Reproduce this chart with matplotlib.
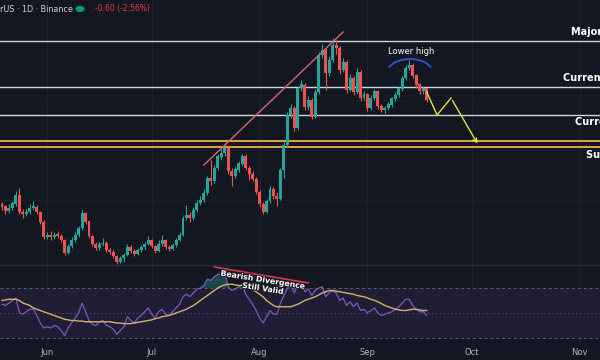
import numpy as np
import pandas as pd
import matplotlib
matplotlib.use("Agg")
import matplotlib.pyplot as plt
import matplotlib.dates as mdates
import matplotlib.patheffects as pe
from matplotlib.patches import Arc

# daily candles (arbitrary price units)
start = "2023-05-19"
opens = [19.6, 19.3, 18.9, 19.2, 19.6, 20.5, 18.8, 18.6, 18.8, 19.2,
         19.3, 18.8, 17.8, 16.3, 16.5, 16.3, 16.5, 16.4, 16.0, 14.7,
         15.4, 16.0, 16.5, 17.2, 18.7, 17.8, 16.4, 15.6, 15.2, 15.6,
         15.7, 15.0, 14.8, 14.4, 13.8, 14.2, 14.5, 15.3, 14.9, 14.6,
         15.0, 15.3, 15.6, 16.0, 15.4, 14.9, 15.6, 16.0, 15.3, 15.1,
         15.5, 16.0, 16.5, 18.2, 18.5, 18.2, 19.0, 19.7, 20.0, 20.7,
         22.2, 21.9, 23.2, 24.3, 24.7, 25.2, 22.9, 22.4, 23.0, 23.6,
         24.4, 23.2, 22.6, 22.1, 20.8, 19.6, 18.8, 19.9, 21.0, 20.4,
         20.1, 23.0, 25.5, 28.5, 29.2, 27.2, 31.2, 31.5, 29.3, 30.0,
         28.3, 30.8, 34.5, 35.0, 32.7, 34.0, 35.5, 35.2, 33.0, 33.8,
         31.0, 32.2, 30.8, 32.8, 30.2, 30.5, 29.2, 30.2, 30.8, 29.4,
         29.0, 29.2, 29.5, 30.1, 30.5, 31.1, 32.2, 33.2, 33.5, 32.4,
         31.5, 30.9, 31.1]
closes = [19.3, 18.9, 19.2, 19.6, 20.5, 18.8, 18.6, 18.8, 19.2, 19.3,
          18.8, 17.8, 16.3, 16.5, 16.3, 16.5, 16.4, 16.0, 14.7, 15.4,
          16.0, 16.5, 17.2, 18.7, 17.8, 16.4, 15.6, 15.2, 15.6, 15.7,
          15.0, 14.8, 14.4, 13.8, 14.2, 14.5, 15.3, 14.9, 14.6, 15.0,
          15.3, 15.6, 16.0, 15.4, 14.9, 15.6, 16.0, 15.3, 15.1, 15.5,
          16.0, 16.5, 18.2, 18.5, 18.2, 19.0, 19.7, 20.0, 20.7, 22.2,
          21.9, 23.2, 24.3, 24.7, 25.2, 22.9, 22.4, 23.0, 23.6, 24.4,
          23.2, 22.6, 22.1, 20.8, 19.6, 18.8, 19.9, 21.0, 20.4, 20.1,
          23.0, 25.5, 28.5, 29.2, 27.2, 31.2, 31.5, 29.3, 30.0, 28.3,
          30.8, 34.5, 35.0, 32.7, 34.0, 35.5, 35.2, 33.0, 33.8, 31.0,
          32.2, 30.8, 32.8, 30.2, 30.5, 29.2, 30.2, 30.8, 29.4, 29.0,
          29.2, 29.5, 30.1, 30.5, 31.1, 32.2, 33.2, 33.5, 32.4, 31.5,
          30.9, 31.1, 30.0]
highs = [19.8, 19.5, 19.6, 19.9, 20.9, 21.2, 19.1, 19.1, 19.6, 19.9,
         19.5, 18.9, 18.0, 16.8, 16.9, 16.8, 16.9, 16.6, 16.1, 15.6,
         16.3, 16.8, 17.4, 19.0, 18.8, 17.9, 16.5, 15.8, 15.8, 16.2,
         15.9, 15.2, 15.0, 14.5, 14.4, 14.7, 15.6, 15.5, 15.1, 15.2,
         15.5, 15.8, 16.4, 16.1, 15.5, 16.0, 16.5, 16.1, 15.5, 15.7,
         16.2, 16.8, 18.4, 19.5, 18.8, 19.3, 20.0, 20.4, 21.1, 22.4,
         24.0, 23.5, 24.6, 25.1, 25.6, 25.4, 23.2, 23.3, 23.9, 24.6,
         24.6, 23.4, 22.9, 22.3, 21.0, 19.8, 20.1, 21.4, 21.3, 20.8,
         23.2, 25.8, 28.8, 29.6, 29.4, 31.4, 32.0, 31.7, 30.4, 30.2,
         31.1, 34.8, 35.6, 35.2, 34.4, 36.2, 36.0, 35.4, 34.2, 34.0,
         32.6, 32.4, 33.2, 33.0, 30.9, 30.7, 30.5, 31.1, 31.0, 29.6,
         29.4, 29.8, 30.3, 30.8, 31.3, 32.4, 33.5, 34.0, 33.7, 32.6,
         31.7, 31.4, 31.2]
lows = [19.0, 18.6, 18.7, 19.0, 19.4, 18.6, 18.2, 18.4, 18.6, 19.0,
        18.6, 17.6, 16.1, 16.1, 16.0, 16.1, 16.2, 15.8, 14.5, 14.6,
        15.2, 15.8, 16.3, 17.0, 17.6, 16.2, 15.4, 15.0, 15.0, 15.4,
        14.8, 14.6, 14.2, 13.6, 13.7, 13.8, 14.4, 14.7, 14.4, 14.5,
        14.8, 15.1, 15.5, 15.2, 14.7, 14.8, 15.4, 15.1, 14.9, 15.0,
        15.3, 15.9, 16.4, 18.0, 17.8, 18.0, 18.8, 19.5, 19.8, 20.5,
        21.5, 21.7, 23.0, 24.0, 24.4, 22.6, 21.4, 22.2, 22.8, 23.4,
        23.0, 22.0, 21.9, 20.6, 19.3, 18.6, 18.7, 19.7, 20.1, 19.4,
        20.0, 22.2, 25.3, 28.2, 26.9, 27.0, 30.9, 29.0, 29.0, 28.1,
        28.2, 30.6, 34.2, 31.0, 32.4, 33.8, 34.6, 32.6, 32.8, 30.7,
        30.9, 30.5, 30.6, 29.9, 30.0, 28.9, 29.0, 30.0, 29.1, 28.8,
        28.7, 29.0, 29.3, 29.9, 30.3, 30.9, 32.0, 33.0, 32.2, 31.2,
        30.6, 30.6, 29.8]

# RSI(14) and its moving average, one value per candle
rsi = [57, 56, 58, 60, 62, 50, 49, 51, 53, 53, 48, 42, 38, 39, 38, 40, 39, 36,
       32, 38, 42, 46, 50, 58, 51, 44, 41, 40, 43, 44, 40, 39, 37, 33, 36, 39,
       47, 44, 42, 46, 48, 51, 54, 49, 46, 51, 53, 49, 48, 51, 54, 57, 63, 65,
       63, 66, 69, 70, 72, 77, 76, 79, 81, 81, 82, 71, 68, 69, 71, 73, 65, 61,
       57, 52, 46, 42, 47, 52, 49, 49, 58, 64, 70, 72, 66, 73, 74, 67, 69, 64,
       68, 70, 71, 63, 66, 68, 66, 60, 62, 56, 59, 55, 58, 52, 53, 50, 52, 54,
       50, 48, 49, 50, 51, 53, 55, 58, 61, 61, 56, 53, 51, 51, 48]
rsi_ma = [60, 60.5, 61, 61, 61, 60, 58, 57, 56, 54, 53, 52, 51, 50, 49, 48, 47,
          46, 45, 44.5, 44, 44, 43.5, 43.5, 43, 43, 43, 43, 43, 43, 43, 43, 42.5,
          42, 42, 41.5, 41.5, 41.5, 42, 42.5, 43, 43.5, 44, 44.5, 45.5, 46, 47,
          47.5, 48, 49, 50, 51, 52, 53, 54.5, 56, 58, 60, 62, 64, 66, 68, 70,
          71.5, 72.5, 73, 73, 72.5, 72, 72, 72, 71, 69, 67, 65, 63, 60, 58, 56,
          55, 55, 55, 55, 55, 56, 57, 58.5, 60, 61, 62, 63, 64.5, 66, 67, 68,
          68, 67.5, 67, 66.5, 66, 65.5, 65, 64, 63.5, 63, 62, 61, 60, 59, 57.5,
          56, 55, 54, 53, 52.5, 52, 52, 52.5, 53, 53, 52.5, 52, 52]

levels = [35.9, 31.3, 28.5]
level_names = ["Major Resistance", "Current Resistance", "Current Support"]
support_zone = [25.3, 25.9]

# drawings
trend_dates = ["2023-07-16", "2023-08-25"]
trend_prices = [23.5, 36.8]
proj_dates = ["2023-09-18", "2023-09-21", "2023-09-25", "2023-10-03"]
proj_prices = [30.8, 28.5, 30.2, 25.4]
div_dates = ["2023-07-19", "2023-08-15"]
div_rsi = [86.8, 74.0]

BG = "#131722"
UP, DOWN = "#26a69a", "#ef5350"
TXT = "#d1d4dc"

dates = pd.date_range(start, periods=len(closes), freq="D")
x = mdates.date2num(dates)
o, c, h, l = map(np.array, (opens, closes, highs, lows))
up = c >= o
col = np.where(up, UP, DOWN)

fig = plt.figure(figsize=(6, 3.6), dpi=100, facecolor=BG)
ax = fig.add_axes([0, 95 / 360, 1, 265 / 360])
rax = fig.add_axes([0, 15 / 360, 1, 80 / 360], sharex=ax)
for a in (ax, rax):
    a.set_facecolor(BG)
    for s in a.spines.values():
        s.set_visible(False)
    a.grid(True, axis="x", color="#1e222d", lw=0.8)
    a.tick_params(length=0)
    a.set_yticks([])

x0 = mdates.date2num(pd.Timestamp(start))
ax.set_xlim(x0 - 0.57, x0 + 171.8)
ax.set_ylim(13.5, 40)
ax.set_yticks([15, 20, 25, 30, 35])
ax.tick_params(labelleft=False, labelbottom=False)
ax.grid(True, axis="y", color="#1a1e29", lw=0.8)

# candles
ax.vlines(x, l, h, colors=col, lw=0.8, zorder=3)
ax.bar(x, np.abs(c - o) + 0.05, bottom=np.minimum(o, c), width=0.85,
       color=col, lw=0, zorder=4)

# horizontal levels (labels run off the right edge, as in the screenshot)
offs = [0.9, 0.9, -0.7]
xs = [x0 + 163.5, x0 + 161.2, x0 + 164.6]
for lv, nm, dy, xt in zip(levels, level_names, offs, xs):
    ax.axhline(lv, color="#d1d4dc", lw=1.0, zorder=2)
    ax.text(xt, lv + dy, nm, color="white", fontsize=7, fontweight="bold",
            va="center", ha="left")
for lv in support_zone:
    ax.axhline(lv, color="#e8a33d", lw=1.4, zorder=2)
ax.text(x0 + 167.8, support_zone[0] - 0.8, "Support Zone", color="white",
        fontsize=7, fontweight="bold", va="center", ha="left")

# trend line
ax.plot(mdates.date2num(pd.to_datetime(trend_dates)), trend_prices,
        color="#e0606e", lw=1.0, zorder=5)

# lower high arc
lh_x = mdates.date2num(pd.Timestamp("2023-09-13"))
ax.add_patch(Arc((lh_x + 0.2, 32.6), 13.5, 3.0, theta1=6, theta2=174,
                 color="#2f55d4", lw=1.3, zorder=6))
ax.text(lh_x + 0.5, 34.9, "Lower high", color="white", fontsize=6,
        ha="center", va="center")

# projection path
px = mdates.date2num(pd.to_datetime(proj_dates))
ax.plot(px[:-1], proj_prices[:-1], color="#e8e23c", lw=1.0, zorder=6)
ax.annotate("", xy=(px[-1], proj_prices[-1]), xytext=(px[-2], proj_prices[-2]),
            arrowprops=dict(arrowstyle="->", color="#e8e23c", lw=1.0,
                            mutation_scale=7), zorder=6)

# header
fig.text(0.0, 1 - 9 / 360, "rUS · 1D · Binance", color=TXT, fontsize=5.8,
         va="center", ha="left")
fig.patches.append(plt.Circle((80 / 600, 1 - 9 / 360), 0.0065,
                              transform=fig.transFigure, color="#089981"))
fig.text(95 / 600, 1 - 9 / 360, "-0.60 (-2.56%)", color="#f23645",
         fontsize=5.5, va="center", ha="left")

# RSI pane
r = np.array(rsi, dtype=float)
rax.set_ylim(24.4, 88.4)
rax.axhspan(30, 70, color="#7e57c2", alpha=0.12, lw=0)
for lv, ls in ((70, (0, (3, 3))), (50, (0, (1, 3))), (30, (0, (3, 3)))):
    rax.axhline(lv, color="#5d606b", lw=0.7, ls=ls)
rax.fill_between(x, r, 70, where=r > 70, interpolate=True, color="#26a69a",
                 alpha=0.35, lw=0)
rax.plot(x, r, color="#7e57c2", lw=0.9)
rax.plot(x, rsi_ma, color="#d6b26a", lw=1.0)
rax.plot(mdates.date2num(pd.to_datetime(div_dates)), div_rsi,
         color="#e0354f", lw=1.2)
stroke = [pe.withStroke(linewidth=1.5, foreground="#1a1a24")]
dx = mdates.date2num(pd.Timestamp("2023-08-02"))
rax.text(dx, 76.6, "Bearish Divergence", color="white", fontsize=5.6,
         fontweight="bold", rotation=-9, ha="center", va="center",
         path_effects=stroke)
rax.text(dx, 69.6, "Still Valid", color="white", fontsize=5.6,
         fontweight="bold", rotation=-9, ha="center", va="center",
         path_effects=stroke)
fig.add_artist(plt.Line2D([0, 1], [95 / 360, 95 / 360], color="#2a2e39",
                          lw=1.0))

rax.xaxis.set_major_locator(mdates.MonthLocator())
rax.xaxis.set_major_formatter(mdates.DateFormatter("%b"))
rax.tick_params(axis="x", colors="#b2b5be", labelsize=6, pad=2)

fig.savefig("out.png", dpi=100, facecolor=BG)
